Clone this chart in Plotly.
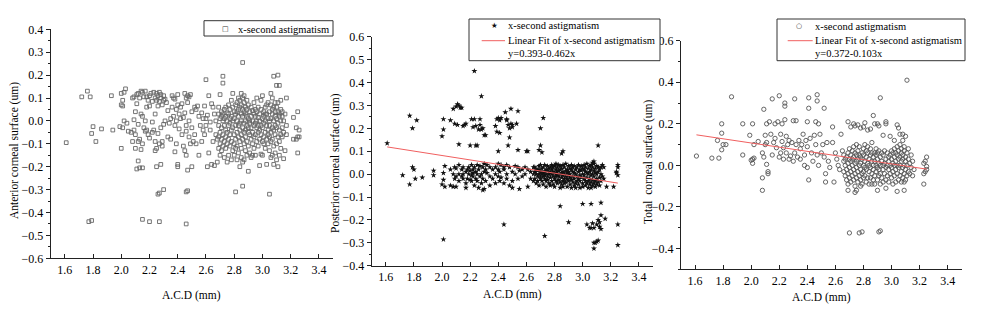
import plotly.graph_objects as go

# ---------------- data ----------------
# Anterior corneal surface: (A.C.D, [values at that A.C.D])
anterior_cols = [
    (1.61, [-0.095]), (1.72, [0.105]), (1.76, [0.13]), (1.77, [-0.44]), (1.78, [0.105]),
    (1.79, [-0.435, -0.055]), (1.80, [-0.025]), (1.82, [-0.09]), (1.86, [-0.035]),
    (1.93, [0.11]), (1.94, [-0.04]), (1.99, [-0.025]),
    (2.00, [0.07, -0.12, 0.12]), (2.01, [0.09, 0.065, -0.03]), (2.02, [0.125, 0.0]), (2.03, [0.14]),
    (2.04, [-0.01]), (2.05, [-0.045]), (2.07, [-0.05]), (2.08, [0.1, -0.09]),
    (2.09, [0.105, 0.005, -0.04]), (2.10, [-0.06, 0.04, -0.12]), (2.11, [0.075, 0.115, -0.21]),
    (2.12, [0.12, -0.015, -0.09, -0.175]), (2.13, [0.1, -0.08, -0.205]),
    (2.14, [0.13, 0.03, -0.125]), (2.15, [0.125, 0.02, -0.1, -0.205, -0.43]),
    (2.16, [0.105, -0.03]), (2.17, [0.13, -0.045, 0.0]), (2.18, [0.105, 0.06, -0.04]),
    (2.19, [-0.06, 0.09]), (2.20, [0.11, 0.065, -0.075, -0.44]), (2.21, [0.12]),
    (2.22, [0.085, -0.005, -0.05]), (2.23, [0.125, -0.04]), (2.24, [0.1, 0.03, -0.09, -0.13]),
    (2.25, [0.12, 0.09, -0.12, -0.2]), (2.26, [0.11, 0.065, -0.055, -0.32]),
    (2.27, [0.085, 0.125, -0.1, -0.315, -0.44]), (2.28, [0.115, 0.1, -0.19, -0.03]),
    (2.29, [0.07, -0.09, -0.11]), (2.30, [0.11, 0.09, -0.015, -0.3]),
    (2.31, [0.0, 0.095]), (2.32, [0.08]), (2.33, [0.045, -0.07]), (2.34, [-0.01]),
    (2.35, [0.01, -0.08]), (2.36, [0.11, 0.06]), (2.37, [0.1, 0.02]),
    (2.38, [-0.02, -0.135, 0.095]), (2.39, [0.0, -0.1, 0.05]), (2.40, [0.115, 0.07, -0.19, -0.2]),
    (2.41, [0.03, -0.035]), (2.42, [0.06, 0.01]), (2.43, [0.075, -0.06]), (2.44, [0.015, -0.11]),
    (2.45, [-0.13, 0.12, 0.035]), (2.46, [0.1, -0.02, -0.045, -0.15, -0.31, -0.45]),
    (2.47, [0.11, 0.08, -0.215, -0.305]), (2.48, [0.105, -0.07, 0.0]), (2.49, [0.115, -0.1]),
    (2.50, [-0.2, 0.04, -0.03]), (2.51, [-0.09]), (2.52, [0.06, -0.06]), (2.53, [0.05, -0.1]),
    (2.54, [0.065]), (2.55, [-0.15, 0.02]), (2.56, [-0.02]), (2.57, [0.035, -0.09]),
    (2.58, [0.01, -0.04]), (2.59, [0.065, -0.06]), (2.60, [0.18, 0.01, -0.02]),
    (2.61, [-0.2, 0.025]), (2.62, [-0.14, 0.11]), (2.63, [-0.04, -0.005]),
    (2.64, [0.075, -0.19]), (2.65, [0.06, -0.09]), (2.66, [-0.195, 0.03]), (2.67, [-0.06, 0.0]),
    (2.68, [-0.18, -0.08]),
    (2.69, [0.03, -0.02, -0.07, -0.12, 0.06]), (2.70, [0.01, -0.05, -0.1, 0.115, -0.15]),
    (2.71, [0.02, -0.03, -0.08, 0.04, -0.13]), (2.72, [0.0, -0.06, 0.03, -0.11, 0.195, 0.165]),
    (2.73, [0.05, -0.02, -0.09, 0.01, -0.16]), (2.74, [-0.04, 0.02, -0.07, 0.06, -0.12]),
    (2.75, [0.0, -0.05, 0.035, -0.1, -0.18]), (2.76, [0.03, -0.02, -0.08, 0.07, -0.15]),
    (2.77, [-0.01, 0.05, -0.06, -0.11, 0.01]), (2.78, [0.02, -0.04, 0.09, -0.09, -0.17]),
    (2.79, [0.0, -0.03, 0.06, -0.13, 0.12]), (2.80, [0.04, -0.06, 0.01, -0.1, -0.15]),
    (2.81, [-0.02, 0.07, -0.08, 0.03, -0.12, -0.31]), (2.82, [0.08, 0.0, -0.05, -0.11, 0.04, -0.17]),
    (2.83, [0.1, -0.02, 0.05, -0.07, -0.14, 0.02]), (2.84, [0.06, -0.01, -0.04, 0.09, -0.09, -0.2]),
    (2.85, [0.12, 0.03, -0.06, 0.0, -0.12, 0.07, -0.16]),
    (2.86, [0.255, 0.1, 0.02, -0.03, -0.08, 0.05, -0.285, -0.18]),
    (2.87, [0.08, -0.01, 0.04, -0.05, -0.1, -0.17, 0.11]), (2.88, [0.0, 0.06, -0.04, -0.07, -0.13, 0.03]),
    (2.89, [0.09, -0.02, 0.02, -0.09, -0.15, 0.05]), (2.90, [0.01, -0.05, 0.07, -0.11, -0.22, -0.03]),
    (2.91, [0.04, -0.01, -0.06, 0.0, -0.14]), (2.92, [-0.03, 0.06, 0.02, -0.08, -0.16]),
    (2.93, [0.0, -0.05, 0.045, -0.1, -0.15]), (2.94, [0.03, -0.02, -0.07, 0.08, -0.12]),
    (2.95, [-0.01, 0.02, -0.06, -0.15, 0.05]), (2.96, [0.04, -0.03, -0.09, 0.0, 0.1]),
    (2.97, [0.015, -0.05, 0.06, -0.11, -0.02]), (2.98, [0.0, -0.04, 0.03, -0.08, -0.195]),
    (2.99, [0.05, -0.02, -0.06, 0.09, -0.145]), (3.00, [0.11, 0.01, -0.03, -0.09, -0.15]),
    (3.01, [-0.01, 0.04, -0.07, 0.02, -0.1]), (3.02, [0.06, 0.0, -0.05, -0.12, 0.03]),
    (3.03, [-0.02, 0.03, -0.08, 0.07, -0.19]), (3.04, [0.01, -0.04, 0.08, -0.1, -0.06]),
    (3.05, [0.04, -0.02, -0.07, 0.0, -0.32, -0.13]), (3.06, [0.07, 0.01, -0.05, -0.09, 0.12, -0.16]),
    (3.07, [0.03, -0.03, 0.1, -0.08, -0.15, 0.05]), (3.08, [0.0, 0.06, -0.04, 0.195, -0.11, -0.19]),
    (3.09, [0.08, 0.02, -0.06, -0.02, -0.14, 0.04]), (3.10, [0.155, 0.01, -0.03, 0.06, -0.1, -0.17]),
    (3.11, [0.2, 0.04, -0.01, -0.07, 0.08, -0.2]), (3.12, [0.155, 0.02, -0.04, 0.03, -0.09, -0.15]),
    (3.13, [0.0, 0.05, -0.06, 0.09, -0.12]), (3.14, [0.02, -0.03, -0.07, 0.04]),
    (3.15, [-0.165, 0.0, -0.05]), (3.16, [-0.13, 0.03]), (3.17, [0.1, -0.02, -0.06]),
    (3.22, [0.015, -0.08]), (3.24, [-0.08, -0.03]), (3.25, [0.04, -0.14, -0.07]), (3.26, [-0.04, -0.07]),
]

# Posterior corneal surface
posterior_cols = [
    (1.61, [0.135]), (1.72, [-0.005]), (1.77, [0.255, -0.045]), (1.79, [0.2, 0.03]),
    (1.80, [0.02]), (1.81, [-0.02]), (1.82, [0.235]), (1.86, [-0.015]), (1.94, [0.015, -0.005]),
    (2.00, [0.165, -0.045]), (2.01, [0.195, 0.24, -0.285, 0.005, -0.025]), (2.02, [0.035, -0.055]),
    (2.06, [0.235, 0.02, -0.05]), (2.08, [0.285, 0.0, -0.055]), (2.09, [0.22, 0.03, -0.02]),
    (2.10, [0.295, 0.025, -0.01, -0.055]), (2.11, [0.305, 0.215]), (2.12, [0.3, 0.13, 0.04, 0.0, -0.03]),
    (2.13, [0.29]), (2.14, [0.29, 0.02, -0.01]), (2.15, [0.21, 0.03, 0.0, -0.02]), (2.16, [0.215]),
    (2.17, [0.22, 0.01, -0.04, -0.06]), (2.18, [0.02, -0.02]), (2.19, [0.0, 0.03]),
    (2.20, [0.125, 0.015, -0.025]), (2.21, [0.24, 0.04, -0.005, -0.03]), (2.22, [0.205, 0.02, -0.01, 0.005]),
    (2.23, [0.45, 0.24, 0.03, -0.05]), (2.24, [0.21, 0.125, 0.01, -0.02]),
    (2.25, [0.125, 0.04, 0.0, -0.03]), (2.26, [0.195, 0.02, -0.06]), (2.27, [0.24, 0.215, 0.035, -0.01]),
    (2.28, [0.34, 0.195, 0.0, -0.04]), (2.29, [0.2, 0.03, -0.07, -0.02]), (2.30, [0.17, 0.01, -0.065, 0.045]),
    (2.31, [0.17, 0.02, -0.03]), (2.32, [0.005, 0.04]), (2.34, [-0.01, 0.03, -0.05]), (2.36, [0.02, -0.02]),
    (2.38, [0.21, 0.03, 0.0, -0.04]), (2.39, [0.185, 0.24]), (2.40, [0.245, 0.1, 0.045, -0.01, 0.02]),
    (2.41, [0.235, 0.18, -0.03, 0.01]), (2.42, [0.245, 0.04, -0.015]), (2.44, [-0.22, 0.02, -0.04, 0.03]),
    (2.45, [0.27]), (2.46, [0.24, 0.235, 0.0, 0.04, -0.02]), (2.47, [0.215, 0.125]),
    (2.48, [0.16, 0.2, 0.03, -0.05]), (2.49, [0.285, 0.22]), (2.50, [0.215, 0.205, 0.01, -0.03, -0.06]),
    (2.52, [0.035, 0.0]), (2.53, [0.22]), (2.54, [0.275, 0.105, 0.03, -0.02]), (2.55, [0.015, -0.065]),
    (2.57, [0.02, -0.01]), (2.59, [0.0, 0.03]), (2.60, [0.1]), (2.61, [0.1, 0.02, -0.055]),
    (2.63, [0.01, -0.02]), (2.65, [0.0, 0.03, -0.03]),
    (2.66, [0.01, -0.02, 0.03]), (2.67, [0.0, -0.04, 0.02]), (2.68, [0.015, -0.01, -0.03]),
    (2.69, [0.105, 0.02, 0.0, -0.05, 0.035]), (2.70, [0.2, 0.125, -0.02, 0.01, 0.04, -0.01]),
    (2.71, [0.095, 0.0, -0.03, 0.025, 0.01]), (2.72, [0.245, 0.03, -0.01, -0.045, 0.005]),
    (2.73, [-0.27, 0.01, -0.02, 0.04, -0.005]), (2.74, [-0.03, 0.02, 0.0, -0.055]),
    (2.75, [0.015, -0.01, 0.035, -0.025]), (2.76, [0.0, 0.025, -0.04, 0.01]),
    (2.77, [-0.015, 0.03, 0.005, -0.05]), (2.78, [0.02, -0.03, 0.0, 0.04]),
    (2.79, [-0.01, 0.01, -0.045, 0.03]), (2.80, [0.005, -0.02, 0.035, -0.055]),
    (2.81, [0.02, -0.01, 0.0, -0.03, 0.045]), (2.82, [-0.005, 0.03, -0.04, 0.01]),
    (2.83, [0.015, -0.025, 0.04, -0.01]), (2.84, [-0.14, 0.0, 0.02, -0.035, 0.035, -0.06]),
    (2.85, [0.09, 0.025, -0.015, 0.005, -0.045]), (2.86, [0.1, 0.01, -0.03, 0.04, -0.005, -0.055]),
    (2.87, [0.03, 0.0, -0.02, -0.04]), (2.88, [0.015, -0.01, 0.045, -0.035]),
    (2.89, [-0.02, 0.02, 0.005, -0.055]), (2.90, [-0.21, 0.035, -0.005, -0.03, 0.01]),
    (2.91, [0.0, 0.025, -0.045, -0.015]), (2.92, [0.02, -0.025, 0.04, -0.06]),
    (2.93, [-0.01, 0.01, -0.035, 0.03]), (2.94, [0.005, -0.02, 0.035, -0.05]),
    (2.95, [0.02, -0.04, 0.0, -0.06]), (2.96, [0.03, -0.01, -0.03]),
    (2.97, [0.01, -0.045, 0.04, -0.02]), (2.98, [-0.005, 0.02, -0.03, -0.06]),
    (2.99, [0.015, -0.015, 0.035]), (3.00, [-0.13, 0.0, -0.04, 0.025, -0.055]),
    (3.01, [0.02, -0.02, 0.04, -0.005]), (3.02, [-0.03, 0.01, 0.03, -0.05]),
    (3.03, [-0.22, 0.005, -0.015, 0.045, -0.04]), (3.04, [0.025, -0.03, 0.0, -0.06]),
    (3.05, [-0.235, 0.01, -0.02, 0.035, -0.045]), (3.06, [-0.13, -0.235, 0.04, -0.005, -0.035, 0.02, -0.06]),
    (3.07, [-0.215, 0.0, 0.03, -0.025, 0.05, -0.05]), (3.08, [-0.235, -0.3, -0.325, 0.015, -0.01, 0.045, -0.04, 0.055]),
    (3.09, [-0.3, 0.025, -0.03, 0.005, -0.055]), (3.10, [-0.22, -0.295, 0.035, 0.0, -0.02, -0.045]),
    (3.11, [0.125, -0.29, -0.2, 0.01, -0.035, 0.03]), (3.12, [-0.21, -0.23, 0.02, -0.015, -0.05]),
    (3.13, [-0.125, -0.18, -0.24, 0.0, 0.03, -0.03]), (3.14, [0.04, -0.01]), (3.15, [0.03, -0.02]),
    (3.16, [-0.195]), (3.17, [-0.055]), (3.22, [-0.055]), (3.24, [0.005, 0.01]),
    (3.25, [-0.22, -0.31, 0.03, 0.04, -0.005]),
]

# Total corneal surface
total_cols = [
    (1.61, [0.045]), (1.72, [0.035]), (1.76, [0.12]), (1.77, [0.035]), (1.79, [0.2, 0.155, 0.075]),
    (1.80, [0.1]), (1.82, [0.1]), (1.86, [0.33]), (1.94, [0.2, 0.05]), (1.99, [0.145]),
    (2.00, [0.025]), (2.01, [0.2, 0.03, 0.01]), (2.02, [0.1, 0.035]), (2.05, [0.115]),
    (2.08, [-0.12, -0.06, 0.06]), (2.09, [0.04, 0.27]), (2.10, [0.1, 0.145]), (2.11, [0.2, 0.005, 0.11]),
    (2.12, [-0.03, -0.04]), (2.13, [0.21]), (2.14, [0.15]), (2.15, [0.32, 0.05]), (2.16, [0.11]),
    (2.17, [0.13, 0.2]), (2.18, [0.085]), (2.19, [0.21]), (2.20, [0.335, 0.04]), (2.21, [0.15, 0.06]),
    (2.22, [0.115, 0.2]), (2.23, [0.03, 0.085]), (2.24, [0.3, 0.285, 0.22]), (2.25, [0.14, 0.06]),
    (2.26, [0.1]), (2.27, [0.03, 0.12]), (2.28, [0.045]), (2.29, [0.11]), (2.30, [0.215, 0.02]),
    (2.31, [0.32, 0.06]), (2.32, [0.215, 0.1]), (2.33, [0.04]), (2.34, [0.12]), (2.35, [0.03, 0.08]),
    (2.36, [0.1]), (2.37, [0.15]), (2.38, [0.05, 0.0]), (2.39, [0.12]), (2.40, [0.21, 0.09, -0.01]),
    (2.41, [0.325, 0.275, -0.07]), (2.42, [0.13]), (2.43, [0.06]), (2.44, [0.02]), (2.45, [0.145]),
    (2.46, [0.21, 0.1]), (2.47, [0.34, 0.31, 0.05]), (2.48, [0.2, 0.0]), (2.49, [0.15]), (2.50, [0.06]),
    (2.51, [0.1]), (2.52, [0.275, 0.04]), (2.53, [-0.04, -0.08]), (2.54, [0.11]), (2.55, [0.02]),
    (2.56, [-0.01]), (2.58, [0.185, 0.11]), (2.59, [-0.08]), (2.60, [0.06]), (2.61, [0.03]),
    (2.62, [0.0]), (2.63, [-0.02]), (2.64, [0.15]), (2.65, [0.07]),
    (2.66, [0.02, -0.03, 0.05]), (2.67, [-0.05, 0.0, 0.03]), (2.68, [0.04, -0.02, -0.07]),
    (2.69, [0.21, -0.12, 0.01, 0.06, -0.04, -0.09]), (2.70, [-0.325, 0.03, -0.01, 0.08, -0.06]),
    (2.71, [0.185, -0.03, 0.02, 0.05, -0.08]), (2.72, [0.0, 0.07, -0.05, 0.03]),
    (2.73, [0.2, 0.04, -0.02, 0.09, -0.07]), (2.74, [0.19, -0.13, 0.01, 0.06, -0.04, -0.1]),
    (2.75, [-0.12, 0.05, -0.01, 0.02, -0.06, 0.1]), (2.76, [0.195, -0.03, 0.03, 0.07, -0.08]),
    (2.77, [-0.325, 0.0, 0.05, -0.05, 0.09]), (2.78, [0.18, -0.1, 0.04, -0.02, 0.01, -0.07]),
    (2.79, [-0.32, 0.06, -0.04, 0.03, -0.09]), (2.80, [0.185, 0.0, 0.08, -0.03, 0.05, -0.06]),
    (2.81, [0.205, 0.02, -0.05, 0.1, -0.01]), (2.82, [0.07, -0.02, 0.04, -0.08]),
    (2.83, [0.17, 0.01, -0.06, 0.06, 0.09]), (2.84, [-0.03, 0.03, 0.0, -0.09]),
    (2.85, [0.175, 0.05, -0.01, 0.08, -0.06]), (2.86, [-0.09, 0.02, -0.04, 0.06, 0.11]),
    (2.87, [0.24, -0.02, 0.04, 0.0, -0.07]), (2.88, [0.2, 0.06, -0.05, 0.02, -0.09]),
    (2.89, [0.0, 0.05, -0.03, 0.08]), (2.90, [0.2, -0.12, 0.03, -0.07, -0.01, 0.06]),
    (2.91, [0.19, -0.32, 0.07, -0.02, 0.01, -0.05]), (2.92, [0.325, -0.315, -0.04, 0.04, 0.0, -0.09]),
    (2.93, [0.02, -0.06, 0.06]), (2.94, [0.145, 0.05, -0.02, -0.08, 0.0]), (2.95, [0.01, -0.04, 0.07]),
    (2.96, [0.21, 0.2, -0.11, 0.03, -0.07, -0.01]), (2.97, [0.06, 0.0, -0.05]),
    (2.98, [-0.02, 0.04, -0.08, 0.02]), (2.99, [0.14, 0.0, 0.05, -0.04]),
    (3.00, [0.03, -0.06, 0.07, -0.01]), (3.01, [0.06, -0.03, 0.01, -0.09]),
    (3.02, [0.12, 0.0, 0.04, -0.05, 0.08]), (3.03, [0.02, -0.02, 0.06, -0.08]),
    (3.04, [0.195, -0.125, 0.05, -0.04, 0.0, 0.09]), (3.05, [0.18, -0.01, 0.03, -0.07, 0.07]),
    (3.06, [0.15, 0.04, 0.0, -0.05, 0.1]), (3.07, [0.02, -0.03, 0.06, -0.08, 0.08]),
    (3.08, [0.15, 0.05, -0.01, 0.03, -0.06, 0.12]), (3.09, [-0.12, 0.0, 0.07, -0.04, 0.09, -0.08]),
    (3.10, [0.14, 0.04, -0.02, 0.02, -0.07]), (3.11, [0.41, 0.06, -0.05, 0.0]),
    (3.12, [0.03, -0.03, 0.08]), (3.13, [0.01, -0.04]), (3.14, [0.05, -0.01]), (3.15, [0.02, -0.05]),
    (3.16, [-0.02]), (3.23, [0.01, -0.09, -0.04]), (3.24, [-0.03, 0.02]), (3.25, [0.04, -0.005, -0.02]),
]

# Linear fit lines as drawn in the picture (intercept, slope)
posterior_fit = (0.274, -0.0964)
total_fit = (0.309, -0.1006)

series_label = "x-second astigmatism"
fit_label = "Linear Fit of x-second astigmatism"
equations = ["y=0.393-0.462x", "y=0.372-0.103x"]
y_titles = ["Anterior corneal surface (um)", "Posterior corneal surface (um)",
            "Total\u00a0 corneal surface (um)"]
x_title = "A.C.D (mm)"


def expand(cols):
    xs, ys = [], []
    for x, vals in cols:
        for v in vals:
            xs.append(x)
            ys.append(v)
    return xs, ys


ax, ay = expand(anterior_cols)
px_, py_ = expand(posterior_cols)
tx, ty = expand(total_cols)


def fit_line(xs, fit):
    b, m = fit
    lx = [min(xs), max(xs)]
    return lx, [b + m * v for v in lx]


W, H = 989, 317
FONT = "Liberation Serif, Times New Roman, serif"
FIT_COLOR = "rgb(240,95,95)"


def fx(p):
    return p / W


def fy(p):
    return 1 - p / H


fig = go.Figure()
fig.add_trace(go.Scatter(x=ax, y=ay, mode="markers", name=series_label, showlegend=False,
                         marker=dict(symbol="square-open", size=3.7, color="#666",
                                     line=dict(width=0.9, color="#666")),
                         xaxis="x", yaxis="y"))
fig.add_trace(go.Scatter(x=px_, y=py_, mode="markers", name=series_label, showlegend=False,
                         marker=dict(symbol="star", size=4.5, color="#111",
                                     line=dict(width=0)),
                         xaxis="x2", yaxis="y2"))
lx, ly = fit_line(px_, posterior_fit)
fig.add_trace(go.Scatter(x=lx, y=ly, mode="lines", name=fit_label, showlegend=False,
                         line=dict(color=FIT_COLOR, width=1),
                         xaxis="x2", yaxis="y2"))
fig.add_trace(go.Scatter(x=tx, y=ty, mode="markers", name=series_label, showlegend=False,
                         marker=dict(symbol="circle-open", size=4.3, color="#555",
                                     line=dict(width=0.9, color="#555")),
                         xaxis="x3", yaxis="y3"))
lx, ly = fit_line(tx, total_fit)
fig.add_trace(go.Scatter(x=lx, y=ly, mode="lines", name=fit_label, showlegend=False,
                         line=dict(color=FIT_COLOR, width=1),
                         xaxis="x3", yaxis="y3"))

tickfont = dict(family=FONT, size=12, color="black")


def xax(dom, anchor):
    return dict(domain=[fx(dom[0]), fx(dom[1])], range=[1.5, 3.5], anchor=anchor,
                tick0=0, dtick=0.2, tickformat=".1f", ticks="inside", ticklen=4,
                tickcolor="#222", showline=True, linecolor="#222", linewidth=1,
                showgrid=False, zeroline=False, tickfont=tickfont, automargin=False)


def yax(dom, anchor, rng, dtick, minor):
    return dict(domain=[fy(dom[1]), fy(dom[0])], range=rng, anchor=anchor,
                tick0=0, dtick=dtick, tickformat=".1f", ticks="outside", ticklen=4,
                tickcolor="#222", showline=True, linecolor="#222", linewidth=1,
                showgrid=False, zeroline=False, tickfont=tickfont, automargin=False,
                minor=dict(ticks="outside", ticklen=2, dtick=minor, tickcolor="#222",
                           showgrid=False))


panels_x = [(50.7, 333), (371.7, 653), (681, 961.7)]
panels_y = [(29.3, 258.3), (36.7, 265.7), (40.7, 269.3)]

fig.update_layout(
    width=W, height=H, margin=dict(l=0, r=0, t=0, b=0),
    paper_bgcolor="white", plot_bgcolor="white", showlegend=False,
    xaxis=xax(panels_x[0], "y"),
    xaxis2=xax(panels_x[1], "y2"),
    xaxis3=xax(panels_x[2], "y3"),
    yaxis=yax(panels_y[0], "x", [-0.6, 0.4], 0.1, 0.05),
    yaxis2=yax(panels_y[1], "x2", [-0.4, 0.6], 0.1, 0.05),
    yaxis3=yax(panels_y[2], "x3", [-0.5, 0.6], 0.2, 0.1),
)

annots = []
shapes = []
tfont = dict(family=FONT, size=11.5, color="black")
xt_y = [295, 294, 297.7]
yt_x = [15, 335, 648]
yt_y = [151, 163, 162]
for i in range(3):
    annots.append(dict(text=x_title, x=fx((panels_x[i][0] + panels_x[i][1]) / 2), y=fy(xt_y[i]),
                       xref="paper", yref="paper", showarrow=False, xanchor="center",
                       yanchor="middle", font=tfont))
    annots.append(dict(text=y_titles[i], x=fx(yt_x[i]), y=fy(yt_y[i]), textangle=-90,
                       xref="paper", yref="paper", showarrow=False, xanchor="center",
                       yanchor="middle", font=tfont))

# ---- legend boxes (drawn as layout decorations) ----
lfont = dict(family=FONT, size=10.5, color="black")
gfont = dict(family="DejaVu Sans", size=7, color="#333")
legend_boxes = [(204, 333, 20.7, 36), (469, 660, 19, 60.7), (777, 965, 19, 60.7)]
symbol_pos = [(225, 29.3), (494.3, 25.7), (799, 26)]
symbol_glyph = ["\u25a1", "\u2605", "\u25cb"]
text_x = [236, 505.7, 813.3]
line_rows = [40.7, 53.3]
line_span = [None, (481.7, 505), (787.7, 812.7)]

for i in range(3):
    x0, x1, y0, y1 = legend_boxes[i]
    shapes.append(dict(type="rect", xref="paper", yref="paper", x0=fx(x0), x1=fx(x1),
                       y0=fy(y1), y1=fy(y0), line=dict(color="#333", width=1),
                       fillcolor="white", layer="above"))
    sx, sy = symbol_pos[i]
    g = dict(gfont)
    if i == 1:
        g = dict(family="DejaVu Sans", size=7.5, color="#111")
    annots.append(dict(text=symbol_glyph[i], x=fx(sx), y=fy(sy), xref="paper", yref="paper",
                       showarrow=False, xanchor="center", yanchor="middle", font=g))
    annots.append(dict(text=series_label, x=fx(text_x[i]), y=fy(sy), xref="paper", yref="paper",
                       showarrow=False, xanchor="left", yanchor="middle", font=lfont))
    if i > 0:
        lx0, lx1 = line_span[i]
        shapes.append(dict(type="line", xref="paper", yref="paper", x0=fx(lx0), x1=fx(lx1),
                           y0=fy(line_rows[0]), y1=fy(line_rows[0]),
                           line=dict(color=FIT_COLOR, width=1), layer="above"))
        annots.append(dict(text=fit_label, x=fx(text_x[i]), y=fy(line_rows[0]), xref="paper",
                           yref="paper", showarrow=False, xanchor="left", yanchor="middle",
                           font=lfont))
        annots.append(dict(text=equations[i - 1], x=fx(text_x[i]), y=fy(line_rows[1]),
                           xref="paper", yref="paper", showarrow=False, xanchor="left",
                           yanchor="middle", font=lfont))

fig.update_layout(annotations=annots, shapes=shapes)

fig.write_html("out.html", config={"displayModeBar": False, "staticPlot": True},
               post_script="document.body.style.margin='0';document.body.style.overflow='hidden';")
